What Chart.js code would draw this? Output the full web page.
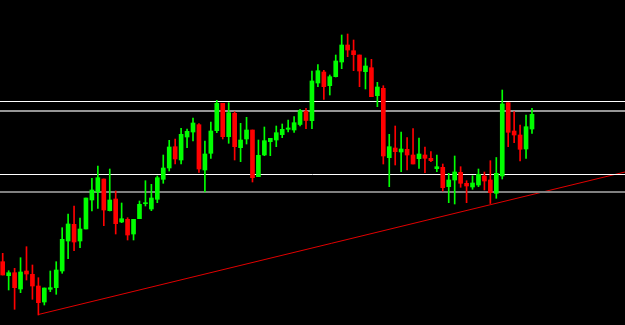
<!DOCTYPE html>
<html>
<head>
<meta charset="utf-8">
<script src="https://cdn.jsdelivr.net/npm/chart.js@4/dist/chart.umd.min.js"></script>
<style>
  html, body { margin: 0; padding: 0; background: #000; }
  #wrap { width: 625px; height: 325px; }
</style>
</head>
<body>
<div id="wrap"><canvas id="candles" width="625" height="325"></canvas></div>
<script>
// candle values (price units, bottom of chart = 0)
const opens = [63.3, 49.3, 52.3, 36, 54, 50.7, 39, 23, 35.7, 37.3,
  54, 84, 100.7, 84, 96, 125, 133, 146, 114.3, 126,
  103, 105.7, 91, 106.3, 121.3, 116, 125.7, 145.7, 157, 178.3,
  165, 188, 193, 200.3, 155, 171.7, 194.3, 221.7, 188.3, 211.7,
  177.3, 186, 195, 148.3, 170, 183.3, 185, 190.3, 195.7, 195,
  200.5, 213.8, 204.3, 242, 253, 239.3, 248.3, 263, 280, 274.3,
  270, 253.3, 257.3, 229.3, 236.7, 167.3, 177, 173, 175.7, 170,
  166.3, 170, 166.7, 156.3, 157.7, 138.3, 145, 152.7, 141.7, 138,
  140, 149, 145, 131.7, 149, 222.3, 194, 190, 176, 196];
const highs = [71.7, 54.3, 56.7, 67.3, 78.3, 60, 47.3, 37, 54, 63.3,
  97.3, 111, 119, 107, 127, 146.7, 159, 146, 156, 134,
  122, 107.3, 105.7, 124, 144.3, 140.7, 149, 170, 184.7, 186,
  196.7, 196, 207, 201.3, 184, 203, 224.7, 221.7, 222.3, 213.3,
  201.7, 207.7, 195, 185, 198, 186.7, 199, 201, 205, 208.3,
  215.7, 216.7, 254, 260.3, 254.7, 250, 270, 290, 291, 285,
  270, 267, 265.7, 242.7, 239.3, 190.7, 199, 193, 187.3, 196.3,
  187, 178, 173.3, 170, 161, 151.7, 169, 158.3, 144.3, 149.3,
  156, 153, 164.3, 167.5, 235, 222.3, 213.3, 200, 210, 216.7];
const lows = [50, 35, 15.7, 32.3, 45, 25.7, 10, 20, 33.3, 30.7,
  51.7, 66.3, 74.3, 77.3, 96, 114, 116.7, 99.3, 114, 91,
  102.3, 85, 85, 106.3, 119, 114.3, 122.3, 141.7, 154, 161,
  161, 177.3, 184, 152.7, 133, 166.7, 192.3, 186, 181.7, 165,
  163.3, 181, 143, 148.3, 169.3, 169.3, 178.3, 187.3, 193, 192.7,
  199, 196.3, 196.3, 238.3, 225.7, 230, 248, 256.3, 268.3, 254.3,
  238.3, 236, 228.3, 218.3, 161, 138.3, 160, 153.3, 155, 161,
  156.7, 152.3, 163.3, 153.3, 134, 122.3, 121, 137.7, 122.3, 135.7,
  138.3, 135, 121.5, 126.7, 146, 178.3, 182.3, 164, 166.7, 191.7];
const closes = [50, 52.3, 37.3, 53, 51, 39, 22.3, 37, 37.3, 55,
  85.7, 101, 83, 96, 127, 135, 147.3, 115, 125, 101.3,
  106.3, 90, 105.7, 120.7, 122, 127, 147.3, 157, 178, 166,
  190.7, 193.7, 202, 156, 171, 194, 221.7, 188.3, 212.3, 178.3,
  185, 195, 147.3, 169.7, 184.3, 186.7, 192.3, 195.7, 197, 202.3,
  214.3, 204.5, 244, 254.3, 238.3, 248.3, 264, 280, 275, 270.3,
  254, 259, 228.3, 238, 169, 178.3, 173.3, 176, 170, 161,
  171, 166.7, 164.3, 158.3, 137.3, 145, 153, 141.7, 139, 142,
  150.7, 144, 132.3, 151.7, 221, 192.7, 190, 175.7, 198.3, 210.7];

// horizontal levels and the trend line
const levelPrices = [223.5, 214, 150.5, 133];
const levelColors = ['#ffffff', '#c8c8c8', '#ffffff', '#808080'];
const levelWidths = [1, 1.5, 1, 2];
const trendX = [6, 104.64];
const trendY = [10.5, 153];

const xMin = -0.454, xMax = 104.64;

let bodies = [], wicks = [], colors = [];
for (let i = 0; i < opens.length; i++) {
    bodies.push({x: i, y: [opens[i], closes[i]]});
    wicks.push({x: i, y: [lows[i], highs[i]]});
    colors.push(closes[i] >= opens[i] ? '#00ff00' : '#ff0000');
}

let datasets = [
    {type: 'bar', data: bodies, backgroundColor: colors, barThickness: 4,
        minBarLength: 1, grouped: false, order: 0},
    {type: 'bar', data: wicks, backgroundColor: colors, barThickness: 1,
        grouped: false, order: 1}
];

levelPrices.forEach((p, i) => {
    datasets.push({
        type: 'line',
        data: [{x: xMin, y: p}, {x: xMax, y: p}],
        borderColor: levelColors[i],
        borderWidth: levelWidths[i],
        pointRadius: 0,
        order: 2
    });
});

datasets.push({
    type: 'line',
    data: trendX.map((x, i) => ({x: x, y: trendY[i]})),
    borderColor: '#e00000',
    borderWidth: 1,
    pointRadius: 0,
    order: 2
});

const bgPlugin = {
    id: 'bg',
    beforeDraw(chart) {
        const c = chart.ctx;
        c.save();
        c.fillStyle = '#000';
        c.fillRect(0, 0, chart.width, chart.height);
        c.restore();
    }
};

new Chart(document.getElementById('candles').getContext('2d'), {
    type: 'bar',
    data: {datasets: datasets},
    options: {
        responsive: false,
        animation: false,
        layout: {padding: 0},
        plugins: {legend: {display: false}, tooltip: {enabled: false}},
        scales: {
            x: {type: 'linear', min: xMin, max: xMax, offset: false, display: false},
            y: {type: 'linear', min: 0, max: 325, display: false}
        }
    },
    plugins: [bgPlugin]
});
</script>
</body>
</html>
